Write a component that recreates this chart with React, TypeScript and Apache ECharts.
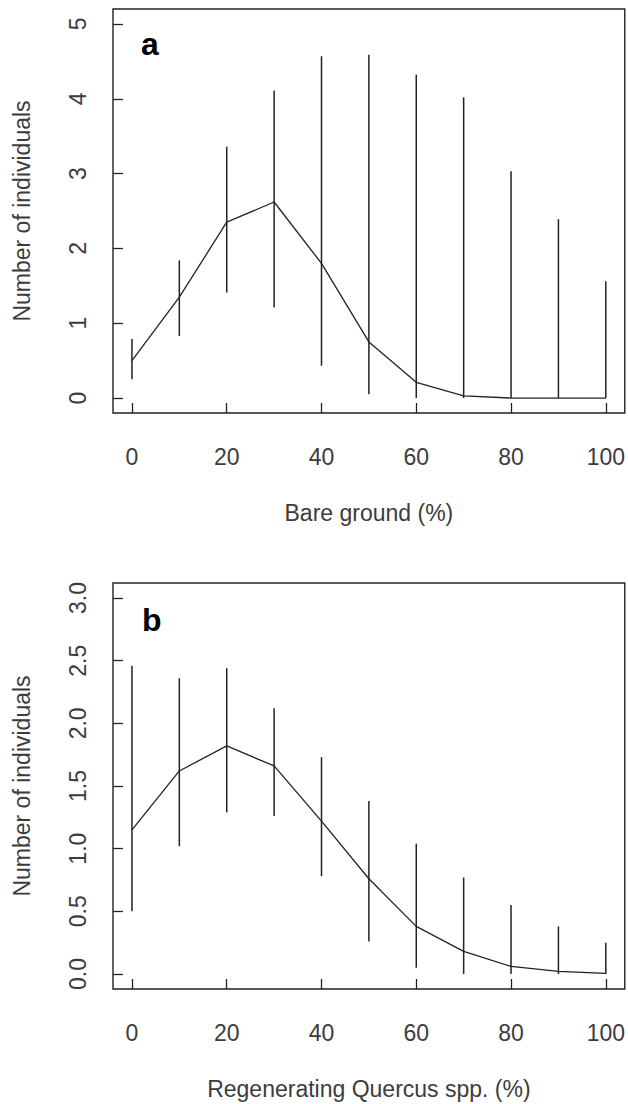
import React, { useEffect, useRef } from "react";
import * as echarts from "echarts";

const xValues = [0, 10, 20, 30, 40, 50, 60, 70, 80, 90, 100];
const xTicks = [0, 20, 40, 60, 80, 100];

// Panel a: Bare ground
const meanA = [0.5, 1.35, 2.35, 2.62, 1.8, 0.75, 0.21, 0.03, 0.0, 0.0, 0.0];
const lowA = [0.25, 0.83, 1.41, 1.21, 0.43, 0.05, 0.0, 0.0, 0.0, 0.0, 0.0];
const highA = [0.79, 1.84, 3.36, 4.11, 4.57, 4.59, 4.32, 4.02, 3.03, 2.39, 1.56];
const yTicksA = [0, 1, 2, 3, 4, 5];

// Panel b: Regenerating Quercus spp.
const meanB = [1.15, 1.62, 1.82, 1.66, 1.22, 0.76, 0.38, 0.18, 0.06, 0.02, 0.005];
const lowB = [0.5, 1.02, 1.29, 1.26, 0.78, 0.26, 0.05, 0.0, 0.0, 0.0, 0.0];
const highB = [2.46, 2.36, 2.44, 2.12, 1.73, 1.38, 1.04, 0.77, 0.55, 0.38, 0.25];
const yTicksB = [0, 0.5, 1, 1.5, 2, 2.5, 3];

const FONT = "'Liberation Sans', Arial, sans-serif";
const INK = "#222";
const TEXT = "#3c3c3c";

function xAxisFor(gridIndex: number, name: string) {
  return {
    type: "value",
    gridIndex,
    min: -4,
    max: 104,
    name,
    nameLocation: "middle",
    nameGap: 88,
    nameTextStyle: { fontFamily: FONT, fontSize: 23, color: TEXT },
    axisLine: { show: false, onZero: false },
    axisTick: {
      show: true,
      inside: true,
      length: 10,
      customValues: xTicks,
      lineStyle: { color: INK, width: 1.3 },
    },
    axisLabel: {
      show: true,
      customValues: xTicks,
      margin: 32,
      fontFamily: FONT,
      fontSize: 23,
      color: TEXT,
    },
    splitLine: { show: false },
  };
}

function yAxisFor(gridIndex: number, min: number, max: number, ticks: number[], fmt: (v: number) => string) {
  return {
    type: "value",
    gridIndex,
    min,
    max,
    name: "Number of individuals",
    nameLocation: "middle",
    nameRotate: 90,
    nameGap: 80,
    nameTextStyle: { fontFamily: FONT, fontSize: 23, color: TEXT },
    axisLine: { show: false, onZero: false },
    axisTick: {
      show: true,
      inside: true,
      length: 10,
      customValues: ticks,
      lineStyle: { color: INK, width: 1.3 },
    },
    axisLabel: {
      show: true,
      customValues: ticks,
      rotate: 90,
      margin: 24,
      fontFamily: FONT,
      fontSize: 23,
      color: TEXT,
      formatter: fmt,
    },
    splitLine: { show: false },
  };
}

function errorSeries(idx: number, low: number[], high: number[]) {
  return {
    type: "custom",
    xAxisIndex: idx,
    yAxisIndex: idx,
    data: xValues.map((x, i) => [x, low[i], high[i]]),
    renderItem: (params: any, api: any) => {
      const p1 = api.coord([api.value(0), api.value(1)]);
      const p2 = api.coord([api.value(0), api.value(2)]);
      return {
        type: "line",
        shape: { x1: p1[0], y1: p1[1], x2: p2[0], y2: p2[1] },
        style: { stroke: INK, lineWidth: 1.5 },
      };
    },
    z: 3,
  };
}

function meanSeries(idx: number, mean: number[]) {
  return {
    type: "line",
    xAxisIndex: idx,
    yAxisIndex: idx,
    data: xValues.map((x, i) => [x, mean[i]]),
    showSymbol: false,
    symbol: "none",
    lineStyle: { color: INK, width: 1.3 },
    z: 4,
  };
}

export default function App() {
  const ref = useRef<HTMLDivElement>(null);
  useEffect(() => {
    if (!ref.current) return;
    const chart = echarts.init(ref.current, null, { renderer: "svg" });
    chart.setOption({
      animation: false,
      backgroundColor: "#ffffff",
      grid: [
        { left: 113, width: 512, top: 9, height: 404, show: true, borderColor: INK, borderWidth: 1.4, backgroundColor: "transparent" },
        { left: 113, width: 512, top: 583, height: 406, show: true, borderColor: INK, borderWidth: 1.4, backgroundColor: "transparent" },
      ],
      xAxis: [xAxisFor(0, "Bare ground (%)"), xAxisFor(1, "Regenerating Quercus spp. (%)")],
      yAxis: [
        yAxisFor(0, -0.2, 5.2, yTicksA, (v: number) => String(v)),
        yAxisFor(1, -0.12, 3.12, yTicksB, (v: number) => v.toFixed(1)),
      ],
      graphic: [
        {
          type: "text",
          left: 141,
          top: 28,
          style: { text: "a", fontFamily: FONT, fontSize: 32, fontWeight: "bold", fill: "#000" },
        },
        {
          type: "text",
          left: 142,
          top: 604,
          style: { text: "b", fontFamily: FONT, fontSize: 32, fontWeight: "bold", fill: "#000" },
        },
      ],
      series: [
        errorSeries(0, lowA, highA),
        meanSeries(0, meanA),
        errorSeries(1, lowB, highB),
        meanSeries(1, meanB),
      ],
    });
    return () => chart.dispose();
  }, []);
  return (
    <div
      ref={ref}
      style={{ position: "absolute", left: 0, top: 0, width: 628, height: 1104, background: "#fff" }}
    />
  );
}
